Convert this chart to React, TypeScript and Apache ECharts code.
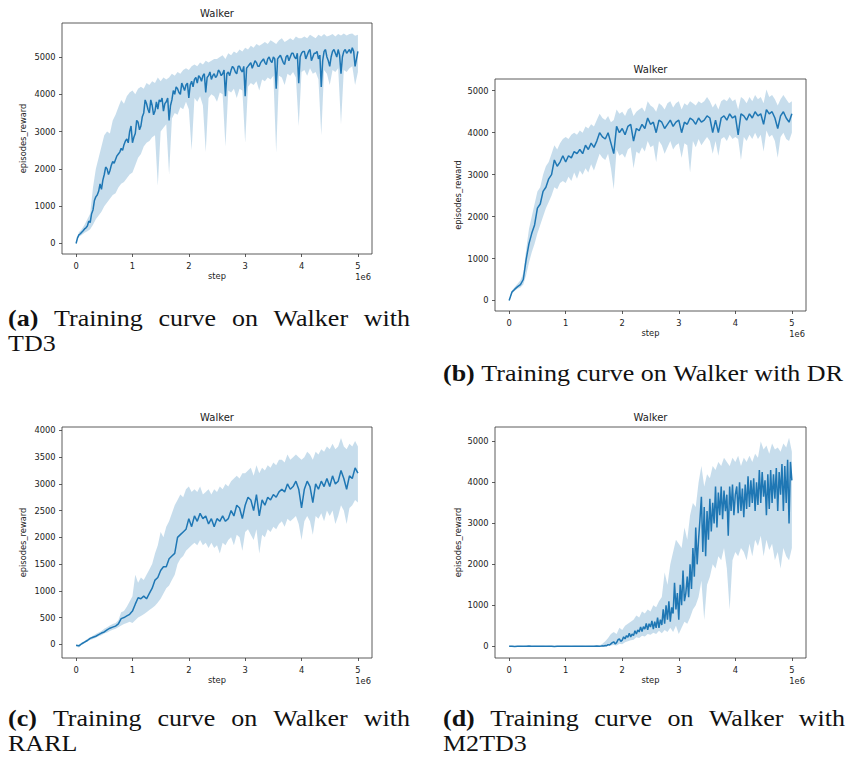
import React, { useEffect, useRef } from 'react';
import * as echarts from 'echarts';

// Environment steps at which the evaluation reward was logged.
const STEPS: number[] = Array.from({ length: 101 }, (_, i) => i * 50000); // every 50k
const STEPS_FINE: number[] = Array.from({ length: 201 }, (_, i) => i * 25000); // every 25k

const X_TICKS = [0, 1e6, 2e6, 3e6, 4e6, 5e6];
const Y_TICKS_5000 = [0, 1000, 2000, 3000, 4000, 5000];
const Y_TICKS_4000 = [0, 500, 1000, 1500, 2000, 2500, 3000, 3500, 4000];

// (a) TD3 — mean logged every 25k steps, band every 50k steps
const TD3_MEAN = [
  0,
  150, 230, 260, 300, 340, 390, 420, 470,
  600, 560, 800, 900, 1150, 1250, 1300, 1400,
  1600, 1450, 1700, 1850, 2050, 2000, 1850, 1950,
  2100, 2200, 2150, 2250, 2350, 2400, 2450, 2550,
  2500, 2650, 2750, 2800, 2700, 3000, 3150, 2700,
  2850, 2950, 3300, 3250, 3050, 3150, 3400, 3500,
  3850, 3750, 3600, 3500, 3850, 3700, 3450, 3550,
  3800, 3600, 3850, 3800, 3900, 3550, 3750, 3800,
  3900, 3300, 3700, 3850, 4100, 4000, 4200, 4150,
  4050, 4000, 4300, 4200, 4100, 4250, 4300, 3900,
  4250, 4350, 4200, 4400, 4450, 4300, 4500, 4450,
  4350, 4500, 4550, 4050, 4450, 4500, 4600, 4400,
  4500, 4550, 4450, 4500, 4650, 4600, 4500, 4550,
  4650, 3950, 4550, 4600, 4500, 4650, 4750, 4700,
  4600, 4550, 4750, 4750, 4650, 4600, 4750, 3950,
  4700, 4750, 4800, 4850, 4700, 4800, 4900, 4850,
  4750, 4750, 4850, 4900, 4950, 4850, 4800, 4950,
  5000, 4900, 4850, 5000, 4950, 4150, 4950, 5000,
  5050, 4950, 4850, 4800, 5000, 5050, 4900, 5000,
  5100, 5100, 5000, 4950, 5100, 4300, 5000, 5100,
  5150, 5150, 4950, 5050, 5150, 5200, 4900, 5000,
  5100, 5100, 5150, 4950, 5050, 4200, 4900, 5150,
  5200, 5000, 4900, 4750, 5000, 5150, 5200, 5100,
  5000, 5200, 5050, 4550, 5000, 5150, 5200, 5100,
  5150, 5200, 5100, 5250, 5150, 4750, 4950, 5150,
];
const TD3_UPPER = [
  0, 300, 380, 500, 650, 800, 1500, 2000, 2300, 2600,
  2900, 3000, 2950, 3300, 3450, 3650, 3850, 3750, 3950, 4050,
  4100, 4000, 4150, 4200, 4150, 4300, 4250, 4350, 4300, 4450,
  4350, 4450, 4400, 4450, 4550, 4500, 4600, 4550, 4650, 4700,
  4650, 4750, 4800, 4750, 4850, 4800, 4900, 4850, 4900, 4950,
  4950, 5000, 5050, 4950, 5100, 5050, 5150, 5100, 5200, 5150,
  5250, 5200, 5300, 5250, 5350, 5300, 5350, 5400, 5350, 5450,
  5400, 5350, 5450, 5500, 5400, 5450, 5500, 5450, 5550, 5500,
  5500, 5550, 5500, 5600, 5550, 5500, 5600, 5550, 5620, 5550,
  5580, 5620, 5550, 5620, 5580, 5630, 5580, 5620, 5630, 5570,
  5600,
];
const TD3_LOWER = [
  0, 180, 230, 290, 330, 380, 500, 650, 750, 850,
  1000, 1100, 1200, 1300, 1350, 1500, 1600, 1650, 1750, 1850,
  1900, 2100, 2300, 2400, 2600, 2700, 2750, 2850, 2900, 1550,
  3000, 3100, 3200, 1850, 3350, 3500, 3450, 3650, 3600, 3800,
  3600, 2500, 3900, 3800, 3950, 3700, 2450, 3900, 4000, 3950,
  3800, 4050, 4000, 2600, 4100, 4050, 4150, 3900, 4150, 4100,
  2700, 4200, 4300, 4250, 4350, 4100, 4400, 4350, 4450, 4400,
  4500, 2430, 4500, 4450, 4250, 4550, 4500, 4600, 4450, 3150,
  4600, 4650, 4500, 4700, 4550, 4600, 4400, 2900, 4650, 4550,
  4250, 4650, 4600, 4700, 3200, 4650, 4600, 4700, 4750, 4250,
  4600,
];

// (b) DR
const DR_MEAN = [
  0, 200, 270, 330, 380, 500, 970, 1350, 1600, 1800,
  2200, 2300, 2600, 2700, 2900, 3000, 3350, 3200, 3300, 3450,
  3300, 3450, 3400, 3550, 3500, 3600, 3500, 3700, 3600, 3750,
  3650, 3800, 4000, 3900, 3850, 4000, 3750, 3500, 4150, 4000,
  4100, 3950, 4150, 4200, 3800, 4100, 4050, 4200, 4100, 4350,
  4200, 4250, 4000, 4300, 4250, 4100, 4200, 4300, 4150, 4250,
  4300, 4000, 4250, 4200, 4350, 4300, 4200, 4350, 4250, 4300,
  4400, 4350, 4000, 4300, 4000, 4350, 4400, 4300, 4450, 4350,
  4400, 3950, 4450, 4400, 4300, 4450, 4350, 4500, 4400, 4450,
  4200, 4550, 4450, 4500, 4350, 4100, 4400, 4500, 4350, 4250,
  4450,
];
const DR_UPPER = [
  0, 240, 320, 400, 480, 650, 1200, 1700, 2000, 2300,
  2600, 2700, 3000, 3200, 3300, 3500, 3700, 3600, 3750, 3850,
  3900, 3850, 3950, 4000, 3950, 4050, 4000, 4150, 4100, 4200,
  4150, 4300, 4450, 4350, 4300, 4400, 4250, 4300, 4550, 4450,
  4500, 4400, 4550, 4600, 4400, 4500, 4550, 4600, 4500, 4750,
  4650, 4600, 4500, 4700, 4650, 4550, 4700, 4750, 4600, 4700,
  4750, 4550, 4700, 4650, 4750, 4700, 4650, 4750, 4700, 4750,
  4850, 4750, 4600, 4700, 4550, 4750, 4800, 4750, 4850, 4750,
  4800, 4550, 4850, 4800, 4700, 4850, 4750, 4900, 4800, 4850,
  4700, 5030, 4850, 4900, 4800, 4650, 4800, 4900, 4800, 4700,
  4750,
];
const DR_LOWER = [
  0, 160, 230, 280, 310, 380, 600, 900, 1150, 1350,
  1600, 1800, 2000, 2200, 2350, 2500, 2700, 2650, 2800, 2850,
  2800, 2950, 2850, 3050, 2900, 3100, 3000, 3150, 3050, 3250,
  3100, 3300, 3500, 3400, 3350, 3500, 3150, 2650, 3600, 3450,
  3500, 3400, 3600, 3650, 3150, 3550, 3500, 3650, 3550, 3800,
  3650, 3700, 3300, 3800, 3700, 3500, 3650, 3800, 3600, 3700,
  3750, 3400, 3750, 3700, 3050, 3800, 3650, 3850, 3700, 3800,
  3900, 3800, 3500, 3800, 3450, 3850, 3900, 3800, 3950, 3850,
  3900, 3850, 3350, 3900, 3800, 3950, 3850, 4000, 3850, 3950,
  3550, 4050, 3900, 3950, 3800, 3400, 3900, 4000, 3850, 3800,
  4000,
];

// (c) RARL
const RARL_MEAN = [
  -20, -30, 10, 40, 70, 110, 130, 150, 180, 210,
  230, 270, 300, 320, 340, 380, 480, 500, 530, 560,
  620, 750, 870, 850, 900, 850, 950, 1050, 1200, 1250,
  1380, 1450, 1450, 1600, 1650, 1700, 2000, 2050, 2100, 2150,
  2350, 2200, 2400, 2300, 2450, 2350, 2400, 2250, 2350, 2200,
  2350, 2300, 2400, 2300, 2350, 2500, 2400, 2600, 2550, 2350,
  2600, 2750, 2700, 2500, 2800, 2400, 2700, 2600, 2750, 2700,
  2800, 2750, 2850, 2900, 2850, 3000, 2900, 2950, 3050, 2900,
  2550, 2900, 3050, 2950, 2650, 3000, 2900, 3050, 2950, 3100,
  2950, 3150, 3000, 3050, 3250, 3100, 2900, 3150, 3100, 3300,
  3200,
];
const RARL_UPPER = [
  -10, 0, 30, 60, 100, 130, 160, 190, 220, 250,
  290, 320, 350, 380, 400, 450, 600, 620, 700, 800,
  900, 1300, 1150, 1250, 1200, 1300, 1400, 1500, 1700, 1850,
  2100, 2000, 2200, 2300, 2450, 2600, 2700, 2800, 2750, 2900,
  2950, 2850, 2900, 2850, 2950, 2800, 2850, 2900, 2800, 2900,
  2850, 2950, 2900, 3000, 2950, 3050, 3100, 3150, 3100, 3200,
  3200, 3250, 3300, 3150, 3350, 3200, 3300, 3250, 3350, 3300,
  3400, 3350, 3450, 3450, 3400, 3550, 3450, 3500, 3550, 3500,
  3450, 3500, 3600, 3550, 3450, 3600, 3550, 3650, 3600, 3700,
  3650, 3750, 3650, 3700, 3860, 3700, 3650, 3750, 3700, 3800,
  3700,
];
const RARL_LOWER = [
  -40, -60, -10, 20, 50, 80, 100, 120, 150, 170,
  200, 220, 250, 270, 290, 320, 350, 380, 400, 420,
  400, 450, 500, 530, 560, 600, 640, 680, 720, 780,
  850, 950, 1050, 1100, 1200, 1300, 1500, 1600, 1650, 1750,
  1800, 1850, 1900, 1850, 1950, 1850, 1900, 1800, 1900, 1800,
  1850, 1700, 1900, 1850, 1950, 2000, 1850, 2050, 2000, 1750,
  2100, 2150, 2050, 1950, 2150, 1700, 2050, 2000, 2150, 2100,
  2200, 2150, 2250, 2300, 2200, 2350, 2300, 2350, 2400, 2250,
  1950, 2300, 2400, 2300, 2050, 2400, 2350, 2450, 2300, 2500,
  2400, 2500, 2250, 2400, 2600, 2500, 2250, 2550, 2600, 2700,
  2650,
];

// (d) M2TD3 — mean logged every 50k steps up to 1.6M, every 25k steps after
const M2TD3_LINE_STEPS = [...STEPS.slice(0, 33), ...STEPS_FINE.slice(65)];
const M2TD3_MEAN = [
  0, 2, -3, 1, 3, -2, 0, 4, -1, 2,
  -2, 1, 3, 0, -1, 2, -3, 1, 0, 2,
  -1, 3, 0, -2, 1, 2, -1, 0, 3, -2,
  1, 4, 2,
  5, 10, 8, 20, 15, 40, 30, 60, 90, 110, 60, 90, 160, 180, 120, 150,
  230, 180, 260, 220, 320, 230, 300, 260,
  380, 300, 400, 350, 470, 360, 480, 420,
  560, 400, 550, 470, 620, 420, 600, 450,
  700, 450, 650, 520, 900, 550, 1000, 650,
  1100, 600, 950, 800, 1550, 900, 1300, 650,
  1500, 1000, 1850, 1100, 1300, 1700, 1200, 2000,
  1400, 2400, 1700, 2900, 2000, 2600, 3100, 3650,
  2300, 3400, 2200, 3300, 2600, 3600, 2800, 3500,
  3000, 3900, 2900, 3750, 3200, 3900, 3100, 3800,
  3300, 3700, 2700, 3900, 3300, 3950, 3200, 3700,
  3900, 3250, 4000, 3300, 3850, 3150, 3950, 3350,
  4150, 3400, 4050, 3500, 4100, 3300, 4000, 3450,
  4300, 3500, 4250, 3650, 4050, 3200, 4200, 3350,
  4300, 3500, 4200, 3600, 4350, 3300, 4250, 3700,
  4450, 3300, 4400, 3500, 4550, 3000, 4500, 4050,
];
const M2TD3_UPPER = [
  10, 12, 8, 10, 12, 9, 10, 13, 9, 11,
  10, 12, 10, 9, 11, 12, 8, 10, 11, 12,
  10, 13, 9, 10, 12, 11, 10, 9, 12, 10,
  11, 14, 20, 60, 120, 200, 300, 350, 300, 450,
  400, 500, 550, 600, 650, 750, 700, 850, 800, 900,
  850, 1000, 950, 1100, 1200, 1800, 1500, 2000, 2300, 2600,
  2500, 2400, 2900, 2600, 3200, 3500, 3400, 4000, 4400, 3900,
  4200, 4100, 4400, 4300, 4500, 4400, 4600, 4500, 4400, 4600,
  4500, 4650, 4400, 4600, 4500, 4650, 4500, 4700, 4600, 5000,
  4800, 4900, 4700, 4950, 4800, 4850, 4750, 4950, 4850, 5090,
  4750,
];
const M2TD3_LOWER = [
  -10, -12, -8, -10, -13, -9, -10, -12, -9, -11,
  -10, -12, -10, -9, -11, -12, -8, -10, -11, -12,
  -10, -13, -9, -10, -12, -11, -10, -9, -12, -10,
  -11, -14, -20, -10, 0, 10, 20, 30, 20, 60,
  50, 100, 120, 150, 160, 220, 200, 260, 240, 300,
  280, 330, 300, 380, 320, 400, 350, 450, 350, 500,
  300, 450, 600, 550, 700, 900, 1000, 1200, 1600, 650,
  1500, 1700, 2000, 1900, 2200, 2100, 2400, 1900, 900, 2100,
  2300, 2200, 2400, 2300, 2100, 2500, 2200, 2600, 2450, 2700,
  2200, 2600, 2350, 2500, 2100, 2300, 1900, 2400, 2200, 2100,
  2400,
];

const PANEL_TITLE = 'Walker';
const X_NAME = 'step';
const Y_NAME = 'episodes_reward';
const X_OFFSET_TEXT = '1e6';

const CAPTION_TAGS = ['(a)', '(b)', '(c)', '(d)'];
const CAPTION_LINES = [
  ['Training curve on Walker with', 'TD3'],
  ['Training curve on Walker with DR'],
  ['Training curve on Walker with', 'RARL'],
  ['Training curve on Walker with', 'M2TD3'],
];

const BLUE = '#1f77b4';
const INK = '#222';
const AXIS_FONT = '"DejaVu Sans", sans-serif';
const CAPTION_FONT = '"Liberation Serif", "DejaVu Serif", serif';

interface Panel {
  lineSteps: number[];
  mean: number[];
  upper: number[];
  lower: number[];
  yTicks: number[];
  yMin: number;
  yMax: number;
}

const PANELS: Panel[] = [
  { lineSteps: STEPS_FINE, mean: TD3_MEAN, upper: TD3_UPPER, lower: TD3_LOWER, yTicks: Y_TICKS_5000, yMin: -282, yMax: 5912 },
  { lineSteps: STEPS, mean: DR_MEAN, upper: DR_UPPER, lower: DR_LOWER, yTicks: Y_TICKS_5000, yMin: -251, yMax: 5280 },
  { lineSteps: STEPS, mean: RARL_MEAN, upper: RARL_UPPER, lower: RARL_LOWER, yTicks: Y_TICKS_4000, yMin: -257, yMax: 4064 },
  { lineSteps: M2TD3_LINE_STEPS, mean: M2TD3_MEAN, upper: M2TD3_UPPER, lower: M2TD3_LOWER, yTicks: Y_TICKS_5000, yMin: -286, yMax: 5352 },
];

// Plot boxes on the page
const GRIDS = [
  { left: 62, top: 23, width: 310, height: 231, nameGap: 35 },
  { left: 495, top: 79, width: 311, height: 232, nameGap: 33 },
  { left: 62, top: 427, width: 310, height: 231, nameGap: 35 },
  { left: 495, top: 427, width: 311, height: 231, nameGap: 33 },
];

// Caption placement: column extent, baselines, and whether the first line is justified
const CAPTION_LAYOUT = [
  { x0: 8, x1: 410, baselines: [325.5, 351], justify: true },
  { x0: 443, x1: 843, baselines: [381], justify: false },
  { x0: 8, x1: 410, baselines: [725.5, 751], justify: true },
  { x0: 443, x1: 845, baselines: [725.5, 751], justify: true },
];
const CAPTION_SIZE = 22.6;

let measureCtx: CanvasRenderingContext2D | null = null;
function textWidth(text: string, size: number, bold: boolean): number {
  if (!measureCtx) measureCtx = document.createElement('canvas').getContext('2d');
  if (!measureCtx) return text.length * size * 0.45;
  measureCtx.font = `${bold ? 'bold ' : ''}${size}px ${CAPTION_FONT}`;
  return measureCtx.measureText(text).width;
}

function captionText(x: number, baseline: number, text: string, sx: number, bold: boolean) {
  return {
    type: 'text',
    x,
    y: baseline - CAPTION_SIZE * 0.34,
    scaleX: sx,
    silent: true,
    style: {
      text,
      fontSize: CAPTION_SIZE,
      fontFamily: CAPTION_FONT,
      fontWeight: bold ? 'bold' : 'normal',
      fill: '#111',
      align: 'left',
      verticalAlign: 'middle',
    },
  };
}

function buildCaptions(): any[] {
  // Widen the serif type so the single-line caption fills its column.
  const natural =
    textWidth(CAPTION_TAGS[1], CAPTION_SIZE, true) +
    textWidth(' ' + CAPTION_LINES[1][0], CAPTION_SIZE, false);
  const sx = (CAPTION_LAYOUT[1].x1 - CAPTION_LAYOUT[1].x0) / natural;
  const space = textWidth(' ', CAPTION_SIZE, false) * sx;

  const out: any[] = [];
  CAPTION_LAYOUT.forEach((lay, k) => {
    const words = [
      { t: CAPTION_TAGS[k], b: true },
      ...CAPTION_LINES[k][0].split(' ').map((t) => ({ t, b: false })),
    ];
    const widths = words.map((w) => textWidth(w.t, CAPTION_SIZE, w.b) * sx);
    const sum = widths.reduce((a, b) => a + b, 0);
    let gap: number;
    let x: number;
    if (lay.justify) {
      gap = (lay.x1 - lay.x0 - sum) / (words.length - 1);
      x = lay.x0;
    } else {
      gap = space;
      const total = sum + gap * (words.length - 1);
      x = (lay.x0 + lay.x1) / 2 - total / 2;
    }
    words.forEach((w, i) => {
      out.push(captionText(x, lay.baselines[0], w.t, sx, w.b));
      x += widths[i] + gap;
    });
    if (CAPTION_LINES[k][1]) {
      out.push(captionText(lay.x0, lay.baselines[1], CAPTION_LINES[k][1], sx, false));
    }
  });
  return out;
}

function buildOption(): any {
  const grid = GRIDS.map((g) => ({
    left: g.left,
    top: g.top,
    width: g.width,
    height: g.height,
    show: true,
    borderColor: '#333',
    borderWidth: 0.8,
    backgroundColor: 'transparent',
    containLabel: false,
    outerBoundsMode: 'none',
  }));

  const tickStyle = { show: true, inside: false, length: 3, lineStyle: { color: '#333', width: 0.8 } };
  const labelStyle = { fontSize: 8.3, fontFamily: AXIS_FONT, color: INK };
  const nameStyle = { fontSize: 8.3, fontFamily: AXIS_FONT, color: INK };

  const xAxis = GRIDS.map((_, k) => ({
    type: 'value',
    gridIndex: k,
    position: 'bottom',
    min: -250000,
    max: 5250000,
    axisLine: { show: false, onZero: false },
    splitLine: { show: false },
    axisTick: { ...tickStyle, customValues: X_TICKS },
    axisLabel: {
      ...labelStyle,
      margin: 7.5,
      customValues: X_TICKS,
      formatter: (v: number) => String(Math.round(v / 1e6)),
    },
    name: X_NAME,
    nameLocation: 'middle',
    nameGap: 18,
    nameTextStyle: nameStyle,
  }));

  const yAxis = PANELS.map((p, k) => ({
    type: 'value',
    gridIndex: k,
    position: 'left',
    min: p.yMin,
    max: p.yMax,
    axisLine: { show: false, onZero: false },
    splitLine: { show: false },
    axisTick: { ...tickStyle, customValues: p.yTicks },
    axisLabel: {
      ...labelStyle,
      margin: 6.5,
      customValues: p.yTicks,
      formatter: (v: number) => String(v),
    },
    name: Y_NAME,
    nameLocation: 'middle',
    nameRotate: 90,
    nameGap: GRIDS[k].nameGap,
    nameTextStyle: nameStyle,
  }));

  const series: any[] = [];
  PANELS.forEach((p, k) => {
    // Shaded spread band between the lower and upper curves
    series.push({
      type: 'custom',
      xAxisIndex: k,
      yAxisIndex: k,
      silent: true,
      clip: true,
      z: 1,
      data: [[STEPS[0], p.lower[0]]],
      renderItem: (_params: any, api: any) => {
        const pts: number[][] = [];
        for (let i = 0; i < STEPS.length; i++) pts.push(api.coord([STEPS[i], p.upper[i]]));
        for (let i = STEPS.length - 1; i >= 0; i--) pts.push(api.coord([STEPS[i], p.lower[i]]));
        return {
          type: 'polygon',
          shape: { points: pts },
          style: { fill: BLUE, opacity: 0.25, stroke: 'none' },
        };
      },
    });
    // Mean reward curve
    series.push({
      type: 'line',
      xAxisIndex: k,
      yAxisIndex: k,
      silent: true,
      symbol: 'none',
      z: 3,
      lineStyle: { color: BLUE, width: 1.5 },
      data: p.lineSteps.map((s, i) => [s, p.mean[i]]),
    });
  });

  const graphic: any[] = [];
  GRIDS.forEach((g) => {
    graphic.push({
      type: 'text',
      x: g.left + g.width / 2,
      y: g.top - 9.5,
      silent: true,
      style: {
        text: PANEL_TITLE,
        fontSize: 10,
        fontFamily: AXIS_FONT,
        fill: INK,
        align: 'center',
        verticalAlign: 'middle',
      },
    });
    graphic.push({
      type: 'text',
      x: g.left + g.width - 1,
      y: g.top + g.height + 22.5,
      silent: true,
      style: {
        text: X_OFFSET_TEXT,
        fontSize: 8.3,
        fontFamily: AXIS_FONT,
        fill: INK,
        align: 'right',
        verticalAlign: 'middle',
      },
    });
  });
  graphic.push(...buildCaptions());

  return {
    animation: false,
    backgroundColor: '#fff',
    textStyle: { fontFamily: AXIS_FONT },
    grid,
    xAxis,
    yAxis,
    series,
    graphic,
  };
}

export default function App() {
  const ref = useRef<HTMLDivElement>(null);
  useEffect(() => {
    if (!ref.current) return;
    const chart = echarts.init(ref.current, null, { renderer: 'svg' });
    chart.setOption(buildOption());
    return () => chart.dispose();
  }, []);
  return (
    <div
      ref={ref}
      style={{ position: 'absolute', left: 0, top: 0, width: 847, height: 757, background: '#fff' }}
    />
  );
}
